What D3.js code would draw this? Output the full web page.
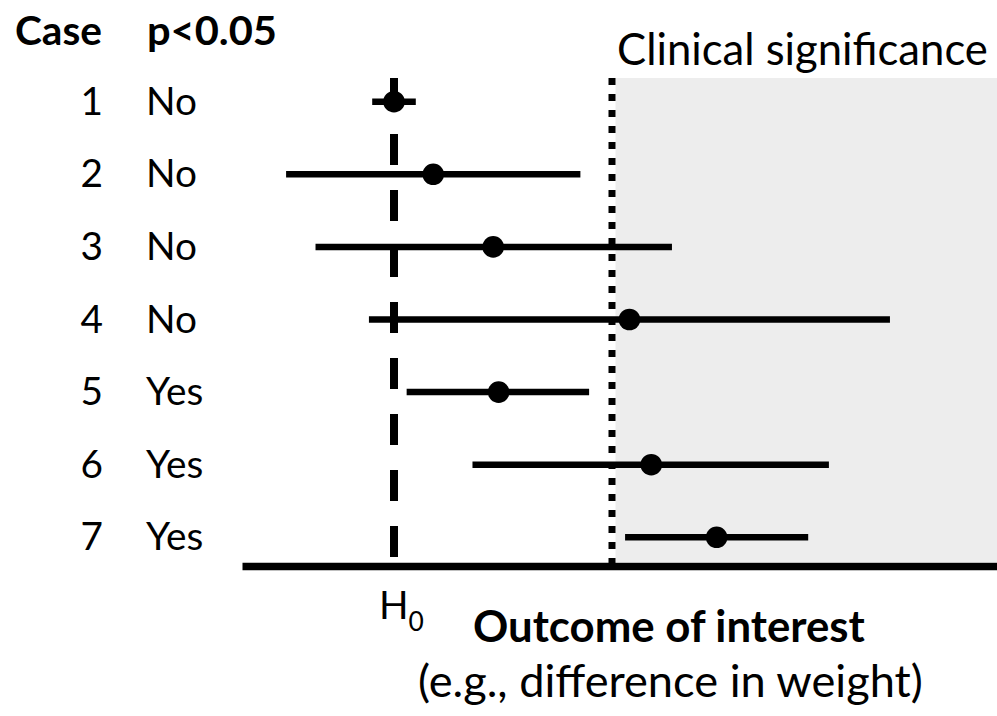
<!DOCTYPE html>
<html>
<head>
<meta charset="utf-8">
<script src="https://cdn.jsdelivr.net/npm/d3@7"></script>
<style>
  body { margin: 0; background: #fff; }
  svg text { font-family: Lato, "Open Sans", sans-serif; fill: #000; }
</style>
</head>
<body>
<div id="chart"></div>
<script>
// outcome units: 0 = H0, 1 = clinical significance threshold
var cases = [1, 2, 3, 4, 5, 6, 7];
var significant = ["No", "No", "No", "No", "Yes", "Yes", "Yes"];
var estimates = [0.00, 0.18, 0.455, 1.08, 0.48, 1.18, 1.48];
var lowerCI = [-0.10, -0.495, -0.36, -0.115, 0.058, 0.36, 1.06];
var upperCI = [0.10, 0.855, 1.275, 2.275, 0.895, 1.995, 1.90];
var nullValue = 0;
var clinicalThreshold = 1;

class ForestChart {
  constructor(config) {
    this.config = config;
    this.initParams();
    this.initChart();
  }

  initParams() {
    this.width = 997;
    this.height = 716;
    this.xScale = d3.scaleLinear()
      .domain([nullValue, clinicalThreshold])
      .range([394, 612]);
    this.yScale = d3.scalePoint()
      .domain(cases)
      .range([101.7, 537.3]);
    this.plotTop = 78;
    this.axisY = 566;
    this.axisLeft = 242;
  }

  initChart() {
    this.svg = d3.select(this.config.bindto).append("svg")
      .attr("width", this.width)
      .attr("height", this.height);
  }

  // scale a text so that it spans the wanted width
  fit(sel, w) {
    var node = sel.node();
    sel.style("font-size", "100px");
    var len = node.getComputedTextLength();
    sel.style("font-size", (100 * w / len) + "px");
    return 100 * w / len;
  }

  drawBackground() {
    var x = this.xScale;
    this.svg.append("rect")
      .attr("x", x(clinicalThreshold) + 3.5)
      .attr("y", this.plotTop)
      .attr("width", this.width - x(clinicalThreshold) - 3.5)
      .attr("height", this.axisY - 4 - this.plotTop)
      .attr("fill", "#ededed");

    this.svg.append("line")
      .attr("x1", x(clinicalThreshold)).attr("x2", x(clinicalThreshold))
      .attr("y1", this.plotTop).attr("y2", this.axisY - 3)
      .attr("stroke", "#000")
      .attr("stroke-width", 7)
      .attr("stroke-dasharray", "7,9");

    this.svg.append("line")
      .attr("x1", x(nullValue)).attr("x2", x(nullValue))
      .attr("y1", this.plotTop).attr("y2", this.axisY - 3)
      .attr("stroke", "#000")
      .attr("stroke-width", 8)
      .attr("stroke-dasharray", "31,25");
  }

  drawIntervals() {
    var x = this.xScale, y = this.yScale;
    var rows = cases.map((c, i) => ({case: c, est: estimates[i], lo: lowerCI[i], hi: upperCI[i]}));

    this.svg.append("g").selectAll("line").data(rows).enter()
      .append("line")
      .attr("x1", (d) => x(d.lo))
      .attr("x2", (d) => x(d.hi))
      .attr("y1", (d) => y(d.case))
      .attr("y2", (d) => y(d.case))
      .attr("stroke", "#000")
      .attr("stroke-width", 6.5);

    this.svg.append("g").selectAll("circle").data(rows).enter()
      .append("circle")
      .attr("cx", (d) => x(d.est))
      .attr("cy", (d) => y(d.case))
      .attr("r", 10.8)
      .attr("fill", "#000");
  }

  drawAxis() {
    var axisScale = d3.scaleLinear()
      .domain([this.xScale.invert(this.axisLeft), this.xScale.invert(this.width)])
      .range([this.axisLeft, this.width]);
    var g = this.svg.append("g")
      .attr("transform", "translate(0," + this.axisY + ")")
      .call(d3.axisBottom(axisScale).ticks(0).tickSizeOuter(0));
    g.select(".domain")
      .attr("stroke", "#000")
      .attr("stroke-width", 7.5);
  }

  drawLabels() {
    var y = this.yScale;
    var svg = this.svg;

    // bold headers: taller than width-fit gives, so squeeze to width
    svg.append("text").attr("x", 15).attr("y", 45)
      .attr("font-weight", "bold")
      .style("font-size", "40px")
      .attr("textLength", 87).attr("lengthAdjust", "spacingAndGlyphs")
      .text("Case");
    svg.append("text").attr("x", 147).attr("y", 45)
      .attr("font-weight", "bold")
      .style("font-size", "40px")
      .attr("textLength", 130).attr("lengthAdjust", "spacingAndGlyphs")
      .text("p<0.05");

    // one size for the row labels, taken from the "No" width
    var probe = svg.append("text").text("No");
    var rowSize = this.fit(probe, 51);
    probe.remove();

    svg.append("g").selectAll("text").data(cases).enter()
      .append("text")
      .attr("x", 103)
      .attr("y", (d) => y(d) + 13)
      .attr("text-anchor", "end")
      .style("font-size", rowSize + "px")
      .text((d) => d);

    svg.append("g").selectAll("text").data(cases).enter()
      .append("text")
      .attr("x", 146)
      .attr("y", (d) => y(d) + 13)
      .style("font-size", rowSize + "px")
      .text((d, i) => significant[i]);

    var clin = svg.append("text").attr("x", 617).attr("y", 65)
      .text("Clinical significance");
    this.fit(clin, 371);

    var h0 = svg.append("text").attr("x", 379).attr("y", 619)
      .style("font-size", rowSize + "px");
    h0.append("tspan").text("H");
    h0.append("tspan").attr("dy", 12).style("font-size", (rowSize * 0.68) + "px").text("0");

    var outcome = svg.append("text").attr("x", 473).attr("y", 642)
      .attr("font-weight", "bold").text("Outcome of interest");
    this.fit(outcome, 392);

    var eg = svg.append("text").attr("x", 418).attr("y", 697)
      .text("(e.g., difference in weight)");
    this.fit(eg, 505);
  }

  draw() {
    this.drawBackground();
    this.drawIntervals();
    this.drawAxis();
    this.drawLabels();
  }
}

var chart = new ForestChart({bindto: "#chart"});
chart.draw();
</script>
</body>
</html>
